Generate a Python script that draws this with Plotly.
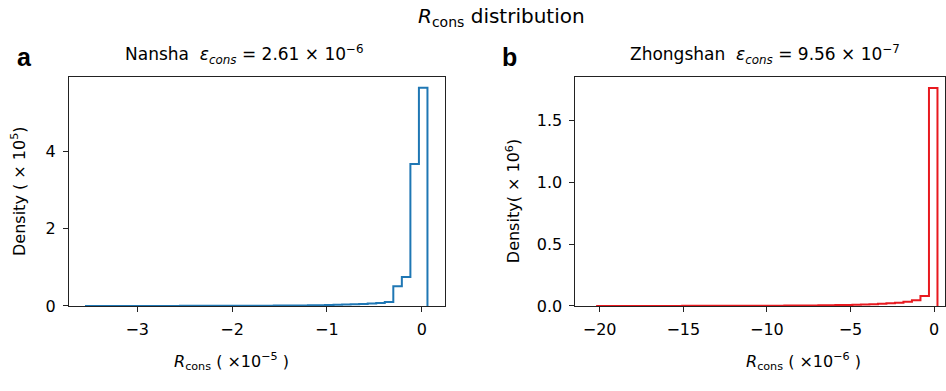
import numpy as np
import plotly.graph_objects as go

# ---- data ----
# Nansha: 40 bins, x in units of 1e-5, density in units of 1e5
nansha_min = -3.54
nansha_max = 0.06
nansha_density = [
    0.001, 0.001, 0.001, 0.001, 0.001, 0.0015, 0.0015, 0.0015, 0.002, 0.002,
    0.002, 0.0025, 0.003, 0.003, 0.0035, 0.004, 0.004, 0.0045, 0.005, 0.006,
    0.007, 0.008, 0.009, 0.010, 0.012, 0.014, 0.017, 0.020, 0.024, 0.029,
    0.035, 0.043, 0.053, 0.065, 0.080, 0.105, 0.51, 0.75, 3.68, 5.66,
]
# Zhongshan: 40 bins, x in units of 1e-6, density in units of 1e6
zhong_min = -20.15
zhong_max = 0.20
zhong_density = [
    0.0004, 0.0004, 0.0004, 0.0005, 0.0005, 0.0005, 0.0006, 0.0006, 0.0007, 0.0007,
    0.0008, 0.0009, 0.0010, 0.0011, 0.0012, 0.0013, 0.0015, 0.0017, 0.0019, 0.0021,
    0.0024, 0.0027, 0.0030, 0.0034, 0.0039, 0.0045, 0.0052, 0.0060, 0.0070, 0.0082,
    0.0097, 0.0116, 0.014, 0.017, 0.021, 0.026, 0.034, 0.046, 0.080, 1.76,
]

left_xticks = [-3, -2, -1, 0]
left_yticks = [0, 2, 4]
right_xticks = [-20, -15, -10, -5, 0]
right_yticks = [0.0, 0.5, 1.0, 1.5]


def step_outline(vmin, vmax, dens):
    n = len(dens)
    edges = np.linspace(vmin, vmax, n + 1)
    xs = [edges[0]] + list(edges[:-1]) + [edges[-1]]
    ys = [0.0] + list(dens) + [0.0]
    return xs, ys


W, H = 946, 391
def px(x):
    return x / W
def py(y):
    return 1 - y / H

fig = go.Figure()

lx, ly = step_outline(nansha_min, nansha_max, nansha_density)
fig.add_trace(go.Scatter(x=lx, y=ly, mode="lines", line=dict(color="#1f77b4", width=2, shape="hv"),
                         xaxis="x", yaxis="y", showlegend=False, hoverinfo="skip"))
rx, ry = step_outline(zhong_min, zhong_max, zhong_density)
fig.add_trace(go.Scatter(x=rx, y=ry, mode="lines", line=dict(color="#e8191f", width=2, shape="hv"),
                         xaxis="x2", yaxis="y2", showlegend=False, hoverinfo="skip"))

font_ax = dict(family="DejaVu Sans", size=16, color="black")
axis_common = dict(showline=True, linecolor="#222", linewidth=1, mirror=True, ticks="outside",
                   ticklen=5, tickwidth=1, tickcolor="#222", showgrid=False, zeroline=False,
                   tickfont=font_ax, ticklabelstandoff=4)

top_px, bot_px = 79, 314
fig.update_layout(
    width=W, height=H, margin=dict(l=0, r=0, t=0, b=0),
    paper_bgcolor="white", plot_bgcolor="white",
    xaxis=dict(domain=[px(69), px(445)], range=[-3.72, 0.24], tickvals=left_xticks, anchor="y", **axis_common),
    yaxis=dict(domain=[py(bot_px), py(top_px)], range=[0, 5.94], tickvals=left_yticks, anchor="x", **axis_common),
    xaxis2=dict(domain=[px(576), 1.0], range=[-21.45, 0.65], tickvals=right_xticks, anchor="y2", **axis_common),
    yaxis2=dict(domain=[py(bot_px), py(top_px)], range=[0, 1.848], tickvals=right_yticks, tickformat=".1f",
                anchor="x2", **axis_common),
)

ann = []
def add(text, x, y, size=16, angle=0, family="DejaVu Sans", bold=False):
    t = f"<b>{text}</b>" if bold else text
    ann.append(dict(text=t, x=px(x), y=py(y), xref="paper", yref="paper", showarrow=False,
                    xanchor="center", yanchor="middle", textangle=angle,
                    font=dict(family=family, size=size, color="black")))

add("<i>R</i><sub>cons</sub> distribution", 502, 17, size=20)
add("a", 25, 58, size=25, family="Liberation Sans", bold=True)
add("b", 510, 58, size=25, family="Liberation Sans", bold=True)
add("Nansha  <i>ε<sub>cons</sub></i> = 2.61 × 10<sup>−6</sup>", 245, 56, size=17)
add("Zhongshan  <i>ε<sub>cons</sub></i> = 9.56 × 10<sup>−7</sup>", 766, 56, size=17)
add("<i>R</i><sub>cons</sub> ( ×10<sup>−5</sup> )", 232, 371, size=16)
add("<i>R</i><sub>cons</sub> ( ×10<sup>−6</sup> )", 804, 371, size=16)
add("Density ( × 10<sup>5</sup>)", 19, 196, size=16, angle=-90)
add("Density( × 10<sup>6</sup>)", 514, 206, size=16, angle=-90)
fig.update_layout(annotations=ann)

fig.write_html("out.html")
